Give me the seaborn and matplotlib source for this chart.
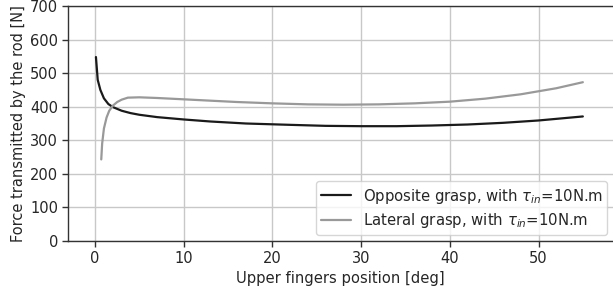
import numpy as np
import pandas as pd
import matplotlib
matplotlib.use('Agg')
import matplotlib.pyplot as plt
import seaborn as sns

# ── Data ───────────────────────────────────────────────────────────────────
opp_x = [0.1, 0.3, 0.6, 1.0, 1.5, 2.0, 3.0, 4.0, 5.0, 7.0, 10, 13, 17, 22, 26, 30, 34, 38, 42, 46, 50, 55]
opp_y = [548, 480, 450, 425, 408, 399, 388, 381, 376, 369, 362, 356, 350, 346, 343, 342, 342, 344, 347, 352, 359, 371]

lat_x = [0.7, 0.8, 1.0, 1.3, 1.6, 2.0, 2.5, 3.0, 3.7, 5.0, 7.0, 10, 13, 16, 20, 24, 28, 32, 36, 40, 44, 48, 52, 55]
lat_y = [243, 290, 335, 368, 388, 403, 414, 421, 427, 428, 426, 422, 418, 414, 410, 407, 406, 407, 410, 415, 424, 437, 455, 473]

labels = [r'Opposite grasp, with $\tau_{in}$=10N.m', r'Lateral grasp, with $\tau_{in}$=10N.m']

df = pd.concat([
    pd.DataFrame({'x': opp_x, 'y': opp_y, 'case': labels[0]}),
    pd.DataFrame({'x': lat_x, 'y': lat_y, 'case': labels[1]}),
])

# ── Plot ───────────────────────────────────────────────────────────────────
sns.set_style('whitegrid')
plt.rcParams['font.family'] = ['DejaVu Sans']

fig = plt.figure(figsize=(6.13, 2.95), dpi=100)
ax = fig.add_axes([68/613, 54/295, 1 - 68/613, 235/295])

sns.lineplot(data=df, x='x', y='y', hue='case', palette=['#1a1a1a', '#999999'],
             linewidth=1.6, sort=False, ax=ax)

ax.set_xlim(-3.05, 58.4)
ax.set_ylim(0, 700)
ax.set_xticks([0, 10, 20, 30, 40, 50])
ax.set_yticks(range(0, 701, 100))
ax.grid(True, color='#c8c8c8', linewidth=1.0)
ax.set_xlabel('Upper fingers position [deg]', fontsize=10.6, labelpad=4)
ax.set_ylabel('Force transmitted by the rod [N]', fontsize=10.5, labelpad=3)
ax.tick_params(labelsize=10.5, length=4, width=1, color='#333333', left=True, bottom=True, pad=3)
for s in ['left', 'bottom', 'top']:
    ax.spines[s].set_color('#333333')
    ax.spines[s].set_linewidth(1.0)
ax.spines['right'].set_visible(False)

ax.legend(title=None, loc='lower right', fontsize=10.7, frameon=True, framealpha=0.8,
          edgecolor='#cccccc', borderaxespad=0.4, borderpad=0.35, labelspacing=0.35)

plt.savefig('out.png', dpi=100)
plt.close()
